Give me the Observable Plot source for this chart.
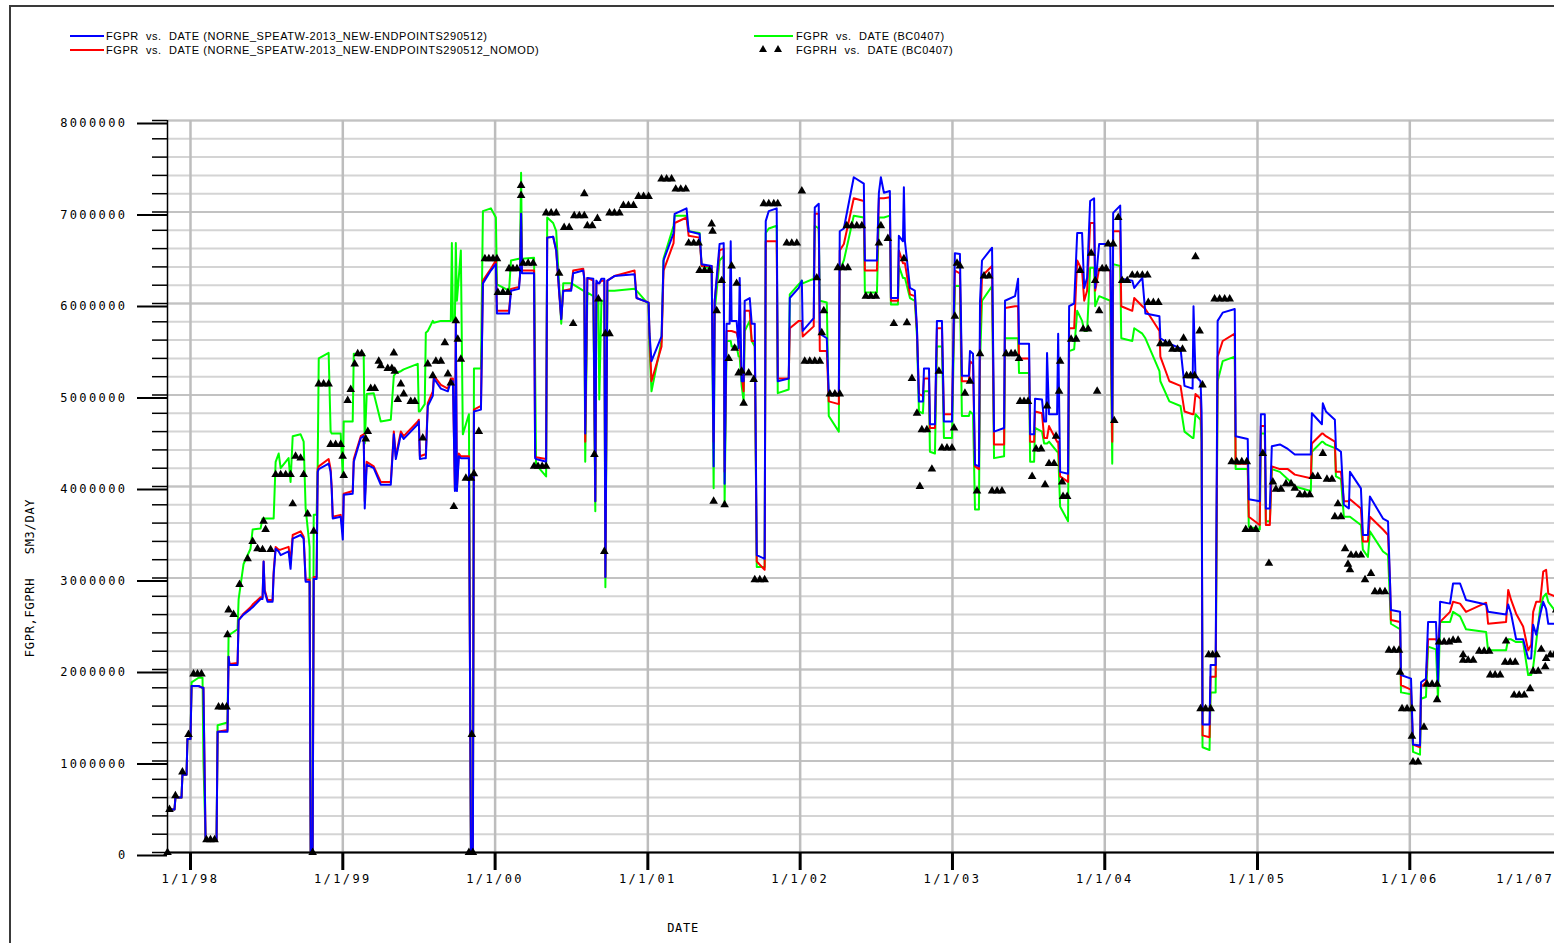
<!DOCTYPE html>
<html><head><meta charset="utf-8">
<script src="https://cdn.jsdelivr.net/npm/d3@7"></script>
<script src="https://cdn.jsdelivr.net/npm/@observablehq/plot@0.6"></script>
<style>
html,body{margin:0;padding:0;background:#fff;width:1554px;height:943px;overflow:hidden;}
#wrap{position:absolute;left:9px;top:5px;width:1600px;height:1000px;border-left:2px solid #3a3a3a;border-top:2px solid #3a3a3a;}
#legend{position:relative;height:63px;font-family:"Liberation Sans",Arial,sans-serif;font-size:11px;color:#000;}
.sw{position:absolute;height:2px;}
.lt{position:absolute;white-space:pre;line-height:12px;letter-spacing:0.55px;}
#chart svg{display:block;max-width:none;overflow:visible;}
#chart g[aria-label="y-axis tick label"] text,#chart g[aria-label="x-axis tick label"] text{letter-spacing:2.4px;}
#chart g[aria-label="text"] text{letter-spacing:0.7px;}
</style></head><body>
<div id="wrap">
 <div id="legend">
  <div class="sw" style="left:59px;top:28px;width:34px;background:#0000ff"></div>
  <div class="lt" style="left:95px;top:23px">FGPR  vs.  DATE (NORNE_SPEATW-2013_NEW-ENDPOINTS290512)</div>
  <div class="sw" style="left:59px;top:42px;width:34px;background:#ff0000"></div>
  <div class="lt" style="left:95px;top:37px">FGPR  vs.  DATE (NORNE_SPEATW-2013_NEW-ENDPOINTS290512_NOMOD)</div>
  <div class="sw" style="left:743px;top:28px;width:39px;background:#00ff00"></div>
  <div class="lt" style="left:785px;top:23px">FGPR  vs.  DATE (BC0407)</div>
  <svg style="position:absolute;left:747px;top:37px" width="26" height="10"><path d="M1,8L5,1L9,8Z M16,8L20,1L24,8Z" fill="#000"/></svg>
  <div class="lt" style="left:785px;top:37px">FGPRH  vs.  DATE (BC0407)</div>
 </div>
 <div id="chart"></div>
</div>
<script>
// ---- data (dates as decimal years, rates in million SM3/DAY) ----
const simYears = [
1997.855,1997.895,1997.901,1997.941,1997.947,1997.974,1997.980,1998.000,1998.007,1998.053,
1998.079,1998.085,1998.099,1998.171,1998.178,1998.243,1998.250,1998.256,1998.309,1998.316,
1998.348,1998.394,1998.408,1998.460,1998.473,1998.480,1998.487,1998.506,1998.539,1998.546,
1998.559,1998.579,1998.592,1998.644,1998.657,1998.671,1998.723,1998.743,1998.756,1998.782,
1998.789,1998.802,1998.809,1998.828,1998.835,1998.842,1998.907,1998.920,1998.927,1998.934,
1998.986,1999.000,1999.006,1999.065,1999.072,1999.118,1999.137,1999.144,1999.157,1999.203,
1999.249,1999.315,1999.335,1999.348,1999.381,1999.400,1999.492,1999.499,1999.506,1999.538,
1999.545,1999.558,1999.591,1999.598,1999.644,1999.690,1999.709,1999.716,1999.723,1999.736,
1999.742,1999.749,1999.762,1999.775,1999.788,1999.828,1999.841,1999.854,1999.861,1999.907,
1999.920,1999.972,2000.005,2000.012,2000.091,2000.104,2000.156,2000.163,2000.170,2000.176,
2000.255,2000.262,2000.268,2000.334,2000.341,2000.380,2000.400,2000.419,2000.433,2000.446,
2000.498,2000.511,2000.577,2000.584,2000.590,2000.604,2000.643,2000.656,2000.663,2000.676,
2000.682,2000.696,2000.715,2000.722,2000.735,2000.781,2000.913,2000.926,2001.005,2001.011,
2001.024,2001.090,2001.103,2001.169,2001.176,2001.254,2001.268,2001.340,2001.353,2001.419,
2001.432,2001.439,2001.471,2001.498,2001.504,2001.517,2001.537,2001.544,2001.550,2001.583,
2001.596,2001.603,2001.616,2001.629,2001.636,2001.669,2001.682,2001.702,2001.715,2001.767,
2001.774,2001.794,2001.846,2001.853,2001.925,2001.932,2001.991,2002.011,2002.017,2002.089,
2002.096,2002.122,2002.129,2002.175,2002.188,2002.254,2002.260,2002.287,2002.352,2002.418,
2002.425,2002.504,2002.517,2002.530,2002.550,2002.589,2002.596,2002.642,2002.648,2002.675,
2002.681,2002.688,2002.721,2002.753,2002.767,2002.780,2002.806,2002.813,2002.846,2002.852,
2002.885,2002.898,2002.931,2002.944,2002.997,2003.016,2003.049,2003.062,2003.108,2003.115,
2003.135,2003.148,2003.174,2003.181,2003.194,2003.260,2003.273,2003.339,2003.345,2003.411,
2003.431,2003.437,2003.503,2003.510,2003.536,2003.542,2003.588,2003.602,2003.615,2003.621,
2003.634,2003.687,2003.694,2003.707,2003.759,2003.766,2003.799,2003.819,2003.851,2003.865,
2003.884,2003.904,2003.930,2003.937,2003.963,2004.036,2004.049,2004.055,2004.101,2004.108,
2004.180,2004.193,2004.246,2004.266,2004.358,2004.364,2004.423,2004.496,2004.522,2004.575,
2004.581,2004.594,2004.627,2004.634,2004.640,2004.686,2004.693,2004.726,2004.739,2004.772,
2004.851,2004.857,2004.936,2004.943,2005.015,2005.022,2005.048,2005.055,2005.081,2005.094,
2005.147,2005.199,2005.245,2005.350,2005.357,2005.423,2005.429,2005.449,2005.508,2005.515,
2005.548,2005.567,2005.600,2005.607,2005.679,2005.692,2005.725,2005.738,2005.824,2005.857,
2005.870,2005.876,2005.936,2005.942,2006.008,2006.021,2006.067,2006.074,2006.106,2006.120,
2006.172,2006.185,2006.199,2006.264,2006.284,2006.330,2006.369,2006.501,2006.514,2006.632,
2006.646,2006.665,2006.698,2006.744,2006.777,2006.797,2006.810,2006.830,2006.856,2006.876,
2006.895,2006.909,2006.968];

// FGPR (NORNE_SPEATW-2013_NEW-ENDPOINTS290512) - blue
const fgprNewEndpoints = [
0.47,0.47,0.60,0.60,0.85,0.85,1.24,1.24,1.82,1.82,
1.80,1.80,0.13,0.13,1.32,1.32,2.14,2.05,2.05,2.54,
2.60,2.66,2.68,2.77,2.77,3.18,2.85,2.74,2.74,3.04,
3.32,3.29,3.25,3.29,3.10,3.43,3.47,3.43,2.96,2.96,
0,0,2.99,2.99,4.16,4.19,4.25,4.16,3.97,3.65,
3.67,3.42,3.91,3.92,4.27,4.53,4.55,3.76,4.24,4.20,
4.02,4.02,4.57,4.30,4.57,4.52,4.68,4.71,4.30,4.31,
4.31,4.88,4.99,5.18,5.07,5.04,5.15,5.15,5.15,3.95,
5.78,3.95,4.33,4.31,4.31,4.31,0,0,4.82,4.84,
6.22,6.36,6.43,5.89,5.89,6.14,6.16,6.30,6.98,6.33,
6.33,4.31,4.30,4.27,6.72,6.73,6.58,6.14,5.83,6.14,
6.14,6.33,6.36,6.27,4.58,6.28,6.27,3.84,6.25,6.22,
6.22,6.27,6.27,3.01,6.25,6.30,6.32,6.06,6.01,5.67,
5.37,5.64,6.47,6.77,6.98,7.04,6.79,6.76,6.43,6.41,
4.22,6.03,6.65,6.66,4.03,5.78,5.78,6.68,5.81,5.81,
5.51,6.28,5.15,5.15,6.03,6.06,5.78,5.78,3.25,3.21,
6.90,7.01,7.04,5.15,5.18,6.06,6.17,6.25,5.70,5.84,
7.05,7.09,5.67,5.62,5.01,5.01,6.79,6.82,7.38,7.31,
6.47,6.47,7.21,7.38,7.21,7.23,6.06,6.06,6.74,6.68,
7.27,6.68,6.17,6.14,5.73,4.93,4.93,5.29,5.29,4.68,
4.68,5.81,5.81,4.71,4.71,6.55,6.54,5.21,5.21,5.48,
5.45,4.24,4.22,6.03,6.47,6.61,4.60,4.64,6.03,6.08,
6.27,5.56,5.56,4.57,4.57,4.96,4.95,4.71,4.71,5.46,
4.79,4.79,5.67,4.16,4.14,5.97,6.00,6.77,6.77,6.17,
6.28,7.12,7.15,6.17,6.65,6.65,4.71,6.99,7.07,6.27,
6.25,6.17,6.28,5.89,5.86,5.62,5.56,5.51,5.10,5.07,
5.97,5.21,5.15,4.82,1.40,1.40,2.05,2.05,5.81,5.90,
5.94,4.55,4.52,3.86,3.84,4.79,4.79,3.76,3.76,4.44,
4.46,4.41,4.35,4.35,4.80,4.68,4.91,4.82,4.73,4.42,
4.38,3.80,3.76,4.16,3.98,3.47,3.47,3.89,3.65,3.62,
2.96,2.65,2.63,1.94,1.90,1.18,1.17,1.86,1.90,2.52,
2.52,1.86,2.74,2.72,2.94,2.94,2.76,2.71,2.63,2.60,
2.71,2.61,2.33,2.33,2.12,2.12,2.49,2.38,2.60,2.74,
2.66,2.50,2.50];

// FGPR (NORNE_SPEATW-2013_NEW-ENDPOINTS290512_NOMOD) - red
const fgprNomod = [
0.47,0.47,0.60,0.60,0.85,0.85,1.24,1.24,1.82,1.82,
1.80,1.80,0.13,0.13,1.32,1.34,2.14,2.06,2.07,2.54,
2.61,2.68,2.71,2.79,2.79,3.18,2.87,2.76,2.76,3.07,
3.34,3.31,3.31,3.34,3.18,3.47,3.51,3.45,2.98,2.98,
0,0,3.01,3.01,4.19,4.22,4.30,4.19,3.99,3.67,
3.69,3.51,3.92,3.95,4.30,4.55,4.57,3.84,4.27,4.22,
4.05,4.05,4.60,4.33,4.60,4.55,4.71,4.73,4.33,4.35,
4.35,4.91,5.04,5.21,5.11,5.07,5.18,5.18,5.18,3.97,
5.81,3.97,4.36,4.33,4.33,4.33,0,0,4.84,4.88,
6.25,6.38,6.47,5.92,5.92,6.16,6.18,6.32,6.98,6.36,
6.36,4.33,4.32,4.30,6.72,6.73,6.58,6.12,5.83,6.14,
6.16,6.36,6.38,6.27,4.49,6.28,6.25,3.84,6.22,6.22,
6.22,6.25,6.25,3.01,6.25,6.30,6.36,6.06,6.01,5.64,
5.15,5.53,6.36,6.66,6.88,6.94,6.74,6.72,6.41,6.41,
4.49,6.03,6.58,6.60,4.16,5.70,5.70,5.70,5.70,5.68,
5.59,5.59,5.21,5.04,5.92,5.92,5.59,5.59,3.18,3.09,
6.68,6.68,6.68,5.18,5.18,5.73,5.81,5.81,5.64,5.75,
6.98,6.98,5.48,5.48,4.93,4.90,6.58,6.65,7.15,7.12,
6.36,6.36,7.15,7.15,7.15,7.16,6.03,6.03,6.58,6.44,
6.44,6.44,6.10,6.08,5.70,5.01,4.99,5.18,5.18,4.64,
4.64,5.73,5.73,4.79,4.79,6.36,6.33,5.15,5.15,5.37,
5.34,4.22,4.19,5.70,6.30,6.41,4.46,4.46,5.95,5.97,
5.97,5.40,5.40,4.49,4.49,4.82,4.80,4.53,4.53,4.53,
4.66,4.49,4.49,4.11,4.05,5.73,5.73,6.47,6.36,6.03,
6.14,6.88,6.88,6.14,6.38,6.36,4.49,6.79,6.79,5.97,
5.92,6.06,5.97,5.94,5.70,5.42,5.15,5.10,4.82,4.79,
4.79,5.01,4.96,4.60,1.28,1.26,1.92,1.92,5.42,5.59,
5.67,4.25,4.25,3.67,3.58,4.66,4.66,3.58,3.58,4.22,
4.19,4.19,4.13,4.09,4.47,4.58,4.58,4.55,4.49,4.16,
4.16,3.84,3.84,3.86,3.76,3.40,3.40,3.67,3.53,3.47,
2.96,2.54,2.52,1.83,1.78,1.18,1.15,1.81,1.86,2.33,
2.33,2.30,2.52,2.63,2.74,2.72,2.63,2.73,2.50,2.52,
2.87,2.76,2.61,2.47,2.21,2.27,2.63,2.74,2.74,3.07,
3.09,2.83,2.79];

// FGPR (BC0407) - green
const fgprBC0407 = [
0.47,0.47,0.60,0.60,0.85,0.85,1.24,1.24,1.86,1.91,
1.91,0.99,0.13,0.13,1.39,1.42,2.38,2.38,2.44,2.77,
3.15,3.32,3.53,3.54,3.65,3.65,3.65,3.65,3.65,3.65,
4.27,4.36,4.20,4.31,4.05,4.55,4.57,4.49,3.76,3.34,
0,0,3.69,3.69,4.20,5.40,5.46,4.60,4.58,4.58,
4.58,4.13,4.71,4.71,5.45,5.45,5.45,4.47,5.01,5.02,
4.71,4.73,5.21,5.24,5.26,5.28,5.34,4.82,4.82,4.90,
5.68,5.70,5.81,5.79,5.81,5.81,5.81,6.66,5.81,5.81,
6.66,6.03,6.30,6.58,4.57,4.79,0,0,5.29,5.29,
7.01,7.04,6.94,6.21,6.14,6.47,6.49,6.49,7.43,6.49,
6.50,5.29,4.24,4.11,6.94,6.88,6.79,6.21,5.78,6.22,
6.22,6.21,6.14,6.14,4.27,6.12,6.08,3.73,6.03,6.03,
4.95,6.03,6.03,2.90,6.14,6.14,6.16,6.14,5.99,5.53,
5.04,5.59,6.49,6.85,6.96,6.96,6.79,6.77,6.41,6.38,
3.98,5.92,6.47,6.52,3.80,5.59,5.59,5.59,5.53,5.53,
5.42,5.42,5.10,4.93,5.70,5.81,5.59,5.53,3.12,3.12,
6.77,6.82,6.85,5.02,5.06,6.10,6.21,6.25,6.22,6.27,
6.85,6.82,6.03,6.01,4.77,4.60,6.36,6.47,6.96,6.94,
6.12,6.12,6.94,6.94,6.94,6.96,5.99,5.99,6.41,6.28,
6.28,6.28,6.06,6.03,5.64,4.82,4.80,5.04,5.04,4.38,
4.36,5.53,5.53,4.53,4.53,6.19,6.19,4.77,4.77,4.82,
4.79,3.75,3.75,5.37,6.03,6.19,4.31,4.33,5.62,5.62,
5.62,5.24,5.24,4.27,4.27,4.64,4.60,4.47,4.47,4.47,
4.49,4.38,4.38,3.78,3.62,5.48,5.50,5.92,5.81,5.70,
5.70,6.39,6.39,5.97,6.08,6.03,4.25,6.43,6.41,5.62,
5.59,5.73,5.67,5.62,5.26,5.15,4.93,4.88,4.60,4.53,
4.53,4.79,4.73,4.49,1.15,1.12,1.75,1.75,5.15,5.37,
5.42,4.19,4.19,3.56,3.53,4.58,4.58,3.62,3.62,4.19,
4.16,4.08,4.00,3.95,4.38,4.49,4.49,4.46,4.42,4.11,
4.08,3.67,3.67,3.67,3.58,3.31,3.23,3.51,3.29,3.25,
2.74,2.50,2.44,1.75,1.73,1.10,1.07,1.68,1.70,2.25,
2.22,1.68,2.52,2.52,2.63,2.58,2.44,2.41,2.21,2.21,
2.33,2.33,2.30,2.30,1.94,1.94,2.03,2.30,2.68,2.79,
2.83,2.74,2.61];

// FGPRH (BC0407) - history, black triangles [decimal year, million SM3/DAY]
const fgprhHistory = [
[1997.849,0],[1997.862,0.47],[1997.901,0.62],[1997.947,0.88],[1997.987,1.29],
[1998.020,1.95],[1998.046,1.95],[1998.072,1.95],
[1998.105,0.14],[1998.131,0.14],[1998.158,0.14],
[1998.184,1.59],[1998.210,1.59],[1998.237,1.59],
[1998.243,2.38],[1998.250,2.65],[1998.283,2.60],[1998.322,2.93],[1998.375,3.21],[1998.408,3.40],[1998.440,3.32],[1998.473,3.31],[1998.480,3.62],[1998.493,3.53],[1998.526,3.31],
[1998.559,4.13],[1998.592,4.13],[1998.625,4.13],[1998.657,4.13],
[1998.671,3.81],[1998.690,4.33],[1998.723,4.31],[1998.743,4.13],[1998.769,3.70],[1998.802,0],[1998.809,3.51],
[1998.842,5.12],[1998.874,5.12],[1998.907,5.12],
[1998.920,4.46],[1998.953,4.46],[1998.986,4.46],
[1998.999,4.33],[1999.006,4.12],[1999.032,4.94],[1999.052,5.06],[1999.078,5.34],[1999.098,5.45],[1999.124,5.45],[1999.151,4.52],[1999.164,4.60],[1999.183,5.07],[1999.210,5.07],[1999.236,5.37],[1999.249,5.32],[1999.295,5.29],[1999.322,5.29],[1999.335,5.46],[1999.341,5.26],[1999.361,4.95],[1999.381,5.12],[1999.400,5.01],[1999.446,4.93],[1999.473,4.93],[1999.525,4.53],[1999.558,5.34],[1999.591,5.21],[1999.611,5.37],[1999.644,5.37],[1999.670,5.57],[1999.690,5.23],[1999.709,5.13],[1999.729,3.78],[1999.742,5.81],[1999.755,5.61],[1999.775,5.39],[1999.808,4.09],[1999.841,4.09],[1999.861,4.14],[1999.893,4.60],[1999.847,1.29],[1999.828,0],[1999.854,0],
[1999.933,6.49],[1999.959,6.49],[1999.986,6.49],[2000.012,6.49],
[2000.018,6.12],[2000.051,6.12],[2000.084,6.12],
[2000.091,6.38],[2000.117,6.38],[2000.143,6.38],
[2000.170,7.29],[2000.170,7.18],
[2000.183,6.44],[2000.216,6.44],[2000.249,6.44],
[2000.255,4.22],[2000.281,4.22],[2000.308,4.22],[2000.334,4.22],
[2000.334,6.99],[2000.367,6.99],[2000.400,6.99],
[2000.419,6.33],[2000.452,6.83],[2000.485,6.83],[2000.511,5.78],[2000.518,6.96],[2000.551,6.96],[2000.584,6.96],[2000.584,7.20],[2000.604,6.85],[2000.636,6.85],[2000.650,4.35],[2000.670,6.93],[2000.676,6.05],[2000.715,3.29],[2000.722,5.67],[2000.749,5.67],[2000.749,6.99],[2000.781,6.99],[2000.814,6.99],[2000.840,7.07],[2000.873,7.07],[2000.906,7.07],[2000.939,7.17],[2000.972,7.17],[2001.005,7.17],
[2001.090,7.36],[2001.123,7.36],[2001.156,7.36],[2001.183,7.25],[2001.216,7.25],[2001.249,7.25],
[2001.268,6.66],[2001.301,6.66],[2001.333,6.66],[2001.340,6.36],[2001.372,6.36],[2001.405,6.36],
[2001.419,6.87],[2001.425,6.79],[2001.432,3.84],[2001.452,5.92],[2001.485,6.25],[2001.504,3.80],[2001.531,5.40],[2001.550,6.41],[2001.570,5.51],[2001.583,6.22],[2001.596,5.24],[2001.616,5.26],[2001.629,4.91],[2001.662,5.24],[2001.695,5.17],
[2001.702,2.98],[2001.735,2.98],[2001.767,2.98],
[2001.761,7.09],[2001.794,7.09],[2001.827,7.09],[2001.853,7.09],
[2001.912,6.66],[2001.945,6.66],[2001.978,6.66],[2002.011,7.23],
[2002.030,5.37],[2002.063,5.37],[2002.096,5.37],[2002.129,5.37],
[2002.109,6.28],[2002.142,5.68],[2002.155,5.92],
[2002.195,5.01],[2002.228,5.01],[2002.260,5.01],
[2002.247,6.39],[2002.280,6.39],[2002.313,6.39],
[2002.306,6.85],[2002.339,6.85],[2002.372,6.85],[2002.405,6.85],
[2002.431,6.08],[2002.464,6.08],[2002.497,6.08],
[2002.517,6.66],[2002.530,6.85],[2002.576,6.71],[2002.615,5.78],[2002.681,6.49],[2002.701,5.79],[2002.734,5.18],[2002.767,4.80],[2002.786,4.00],[2002.799,4.62],[2002.832,4.62],[2002.865,4.19],[2002.911,5.26],[2002.931,4.42],[2002.964,4.42],[2002.997,4.42],[2003.010,4.64],[2003.016,5.86],[2003.030,6.44],[2003.049,6.41],[2003.082,5.02],[2003.115,5.15],[2003.161,3.95],[2003.181,5.45],[2003.207,6.30],[2003.240,6.30],[2003.260,3.95],[2003.293,3.95],[2003.325,3.95],[2003.352,5.45],[2003.385,5.45],[2003.411,5.45],[2003.437,5.40],[2003.444,4.93],[2003.470,4.93],[2003.496,4.93],[2003.523,4.11],[2003.549,4.41],[2003.582,4.41],[2003.608,4.02],[2003.621,4.88],[2003.634,4.25],[2003.667,4.25],[2003.680,4.55],[2003.700,5.04],[2003.707,5.37],[2003.720,4.05],[2003.726,3.89],[2003.753,3.89],[2003.779,5.61],[2003.812,5.61],[2003.838,6.36],[2003.858,5.72],[2003.891,5.72],[2003.911,6.55],[2003.937,6.25],[2003.950,5.04],[2003.963,5.92],[2003.983,6.38],[2004.009,6.38],[2004.022,6.65],[2004.055,6.65],[2004.062,4.72],[2004.088,6.94],[2004.114,6.25],[2004.147,6.25],[2004.180,6.31],[2004.213,6.31],[2004.246,6.31],[2004.279,6.31],[2004.285,6.01],[2004.318,6.01],[2004.351,6.01],[2004.364,5.56],[2004.397,5.56],[2004.423,5.56],[2004.443,5.50],[2004.476,5.50],[2004.509,5.50],[2004.516,5.62],[2004.536,5.21],[2004.562,5.21],[2004.588,5.21],[2004.594,6.51],[2004.621,5.70],[2004.640,5.11],
[2004.627,1.57],[2004.660,1.57],[2004.693,1.57],[2004.680,2.16],[2004.706,2.16],[2004.732,2.16],
[2004.719,6.05],[2004.752,6.05],[2004.785,6.05],[2004.818,6.05],
[2004.831,4.27],[2004.864,4.27],[2004.897,4.27],[2004.930,4.27],
[2004.923,3.53],[2004.956,3.53],[2004.989,3.53],
[2005.035,4.36],[2005.075,3.16],[2005.101,4.05],[2005.121,3.97],[2005.154,3.97],[2005.187,4.03],[2005.220,4.03],[2005.245,3.98],[2005.278,3.91],[2005.310,3.91],[2005.343,3.91],[2005.363,4.11],[2005.396,4.11],[2005.429,4.36],[2005.456,4.08],[2005.489,4.08],[2005.508,3.67],[2005.528,3.81],[2005.548,3.67],[2005.575,3.32],[2005.594,3.15],[2005.607,3.09],[2005.614,3.25],[2005.647,3.25],[2005.679,3.25],[2005.706,2.98],[2005.745,3.05],[2005.771,2.85],[2005.804,2.85],[2005.837,2.85],[2005.863,2.21],[2005.896,2.21],[2005.929,2.21],[2005.936,1.97],[2005.949,1.57],[2005.982,1.57],[2006.014,1.57],[2006.014,1.27],[2006.021,0.99],[2006.054,0.99],[2006.093,1.37],[2006.113,1.84],[2006.146,1.84],[2006.179,1.84],[2006.179,1.67],[2006.192,2.30],[2006.225,2.30],[2006.258,2.30],[2006.284,2.32],[2006.317,2.32],[2006.350,2.16],[2006.350,2.10],[2006.383,2.10],[2006.416,2.10],[2006.456,2.20],[2006.488,2.20],[2006.521,2.20],[2006.528,1.94],[2006.560,1.94],[2006.593,1.94],[2006.632,2.31],[2006.626,2.08],[2006.659,2.08],[2006.692,2.08],[2006.685,1.72],[2006.718,1.72],[2006.751,1.72],[2006.790,1.79],[2006.810,1.98],[2006.843,1.98],[2006.863,2.22],[2006.889,2.03],[2006.895,2.12],[2006.922,2.16],[2006.948,2.16],[2006.961,2.65]
];

const yearTicks = [1998,1999,2000,2001,2002,2003,2004,2005,2006];
const lastYearLabel = 2007;
const yMajorTicks = [0,1000000,2000000,3000000,4000000,5000000,6000000,7000000,8000000];
const yMinorStep = 200000;
const xDomainYears = [1997.849, 2006.950];

// ---- build ----
const toDate = y => { const Y = Math.floor(y); const a = Date.UTC(Y,0,1), b = Date.UTC(Y+1,0,1); return new Date(a + (y - Y) * (b - a)); };
const series = vals => simYears.map((t, i) => ({date: toDate(t), v: vals[i] * 1e6}));
const blue = series(fgprNewEndpoints), red = series(fgprNomod), green = series(fgprBC0407);
const hist = fgprhHistory.map(([t, v]) => ({date: toDate(t), v: v * 1e6}));
const yearDates = yearTicks.map(y => new Date(Date.UTC(y,0,1)));
const yMinor = d3.range(0, 8000000 + 1, yMinorStep);
const x0 = toDate(xDomainYears[0]);
const fmtYear = d => "1/1/" + String(d.getUTCFullYear()).slice(2);

const chart = Plot.plot({
  width: 1543, height: 873,
  marginLeft: 156, marginRight: 0, marginTop: 50, marginBottom: 91,
  x: {type: "utc", domain: [x0, toDate(xDomainYears[1])]},
  y: {domain: [0, 8000000]},
  style: {fontFamily: "'DejaVu Sans Mono', monospace", fontSize: "12px", background: "white", color: "black", overflow: "visible"},
  marks: [
    Plot.gridY(yMinor, {stroke: "#d4d4d4", strokeOpacity: 1, strokeWidth: 2}),
    Plot.gridY(yMajorTicks, {stroke: "#c2c2c2", strokeOpacity: 1, strokeWidth: 2}),
    Plot.gridX(yearDates, {stroke: "#bdbdbd", strokeOpacity: 1, strokeWidth: 2.5}),
    Plot.line(green, {x: "date", y: "v", stroke: "#00ff00", strokeWidth: 2}),
    Plot.line(red, {x: "date", y: "v", stroke: "#ff0000", strokeWidth: 2}),
    Plot.line(blue, {x: "date", y: "v", stroke: "#0000ff", strokeWidth: 2}),
    Plot.ruleX([x0], {stroke: "#000", strokeWidth: 1.5}),
    Plot.ruleY([0], {stroke: "#000", strokeWidth: 2}),
    Plot.axisY(yMinor, {tickSize: 15, tickFormat: () => "", strokeWidth: 1.5, label: null}),
    Plot.axisY(yMajorTicks, {tickSize: 30, tickPadding: 10, tickFormat: d => String(d), strokeWidth: 2, label: null, dy: 3}),
    Plot.axisX(yearDates, {tickSize: 18, tickPadding: 4, strokeWidth: 3, tickFormat: fmtYear, label: null}),
    Plot.axisX([new Date(Date.UTC(lastYearLabel,0,1))], {tickSize: 0, tickPadding: 22, tickFormat: fmtYear, textAnchor: "end", dx: -8, label: null}),
    Plot.dot(hist, {x: "date", y: "v", symbol: "triangle", r: 3.2, fill: "#000", stroke: "none"}),
    Plot.text(["FGPR,FGPRH"], {frameAnchor: "left", text: d => d, rotate: -90, textAnchor: "middle", lineAnchor: "middle", dx: -137, dy: 131}),
    Plot.text(["SM3/DAY"], {frameAnchor: "left", text: d => d, rotate: -90, textAnchor: "middle", lineAnchor: "middle", dx: -137, dy: 40}),
    Plot.text(["DATE"], {frameAnchor: "bottom", text: d => d, textAnchor: "middle", lineAnchor: "middle", dx: -178, dy: 76})
  ]
});
document.getElementById("chart").appendChild(chart);
</script>
</body></html>
